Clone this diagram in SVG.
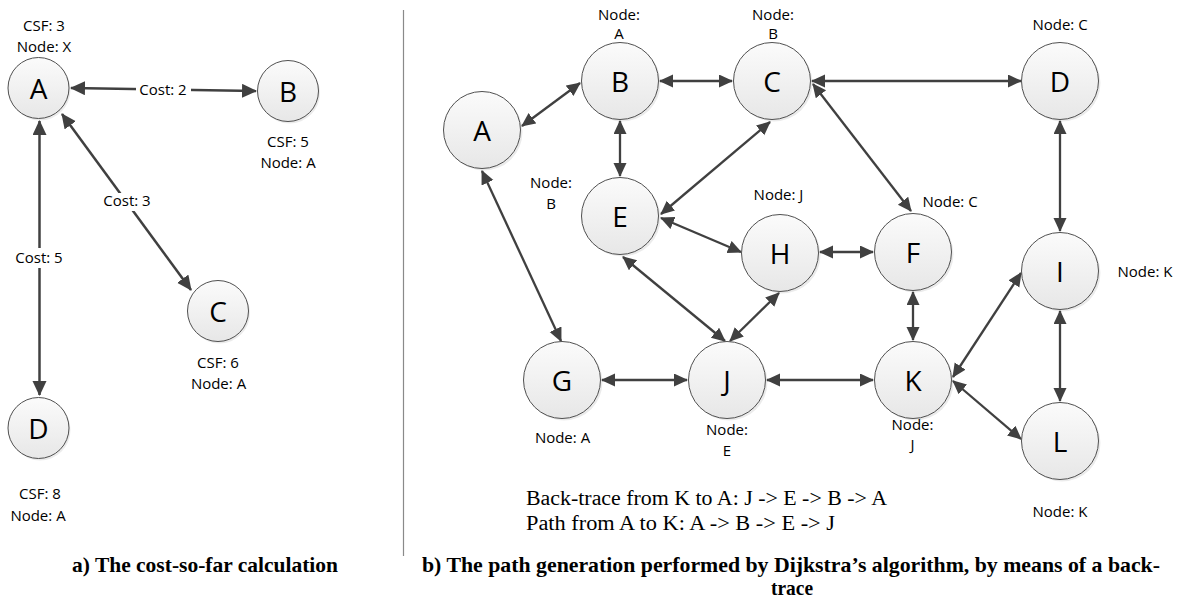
<svg xmlns="http://www.w3.org/2000/svg" width="1177" height="601" viewBox="0 0 1177 601">
<style>
.n{stroke:#505050;stroke-width:1;fill:url(#g)}
.sh{fill:#000;opacity:0.08}
.lt{font-family:"Open Sans","Liberation Sans",sans-serif;font-size:28px;fill:#000;text-anchor:middle}
.lb{font-family:"Open Sans","Liberation Sans",sans-serif;font-size:15px;fill:#000;text-anchor:middle}
.e{stroke:#404040;stroke-width:2.3;fill:none;marker-start:url(#ah);marker-end:url(#ah)}
.e1{stroke:#404040;stroke-width:2.5;fill:none;marker-end:url(#ah2)}
.sf{font-family:"Liberation Serif","Times New Roman",serif;font-size:20px;fill:#000}
.cap{font-family:"Liberation Serif","Times New Roman",serif;font-size:21px;font-weight:bold;fill:#000}
</style>
<defs>
<linearGradient id="g" x1="0" y1="0" x2="0" y2="1">
<stop offset="0" stop-color="#fbfbfb"/>
<stop offset="1" stop-color="#e7e7e7"/>
</linearGradient>
<marker id="ah" markerUnits="userSpaceOnUse" markerWidth="16" markerHeight="14" viewBox="0 0 16 14" refX="13" refY="6.5" orient="auto-start-reverse">
<path d="M0,0 L14,6.5 L0,13 z" fill="#404040"/>
</marker>
<marker id="ah2" markerUnits="userSpaceOnUse" markerWidth="17" markerHeight="16" viewBox="0 0 17 16" refX="14" refY="7" orient="auto-start-reverse">
<path d="M0,0 L15,7 L0,14 z" fill="#404040"/>
</marker>
</defs>
<rect width="1177" height="601" fill="#fff"/>

<line x1="403.5" y1="10" x2="403.5" y2="556" stroke="#8a8a8a" stroke-width="1.2"/>

<g id="connectors">
<!-- left panel -->
<line class="e1" x1="163" y1="89.5" x2="71" y2="88"/>
<line class="e1" x1="163" y1="89.5" x2="256" y2="91"/>
<line class="e1" x1="126.5" y1="202" x2="62" y2="114"/>
<line class="e1" x1="126.5" y1="202" x2="191" y2="290"/>
<line class="e1" x1="39.5" y1="258" x2="39.5" y2="121"/>
<line class="e1" x1="39.5" y1="258" x2="39.5" y2="395"/>
<rect x="136" y="80" width="55" height="19" fill="#fff"/>
<text class="lb" x="163" y="95">Cost: 2</text>
<rect x="100" y="193" width="54" height="18" fill="#fff"/>
<text class="lb" x="127" y="206">Cost: 3</text>
<rect x="13" y="248" width="53" height="20" fill="#fff"/>
<text class="lb" x="39" y="263">Cost: 5</text>
<!-- right panel -->
<line class="e" x1="522" y1="126" x2="580" y2="83"/>
<line class="e" x1="660" y1="81" x2="732" y2="81"/>
<line class="e" x1="812" y1="81" x2="1021" y2="81"/>
<line class="e" x1="620" y1="121" x2="620" y2="176"/>
<line class="e" x1="770" y1="122" x2="661" y2="214"/>
<line class="e" x1="813" y1="84" x2="911" y2="211"/>
<line class="e" x1="661" y1="218" x2="741" y2="252"/>
<line class="e" x1="623" y1="257" x2="725" y2="341"/>
<line class="e" x1="779" y1="293" x2="730" y2="341"/>
<line class="e" x1="820" y1="252" x2="873" y2="252"/>
<line class="e" x1="482" y1="171" x2="561" y2="341"/>
<line class="e" x1="602" y1="380" x2="687" y2="380"/>
<line class="e" x1="767" y1="380" x2="873" y2="380"/>
<line class="e" x1="913" y1="292" x2="913" y2="340"/>
<line class="e" x1="1060" y1="121" x2="1060" y2="231"/>
<line class="e" x1="1021" y1="273" x2="953" y2="377"/>
<line class="e" x1="953" y1="381" x2="1021" y2="439"/>
<line class="e" x1="1060" y1="311" x2="1060" y2="401"/>
</g>

<!-- left panel nodes -->
<g id="la">
<circle class="sh" cx="40" cy="90" r="30.5"/>
<circle class="n" cx="38.5" cy="88" r="30.5"/>
<text class="lt" x="38.5" y="99">A</text>
<text class="lb" x="44" y="31">CSF: 3</text>
<text class="lb" x="44" y="52">Node: X</text>
</g>
<g id="lb">
<circle class="sh" cx="289.5" cy="93" r="30.5"/>
<circle class="n" cx="288" cy="91" r="30.5"/>
<text class="lt" x="288" y="102">B</text>
<text class="lb" x="288" y="147">CSF: 5</text>
<text class="lb" x="288" y="168">Node: A</text>
</g>
<g id="lc">
<circle class="sh" cx="219.5" cy="313" r="30.5"/>
<circle class="n" cx="218" cy="311" r="30.5"/>
<text class="lt" x="218" y="322">C</text>
<text class="lb" x="218" y="368">CSF: 6</text>
<text class="lb" x="218.5" y="389">Node: A</text>
</g>
<g id="ld">
<circle class="sh" cx="40" cy="430" r="30.5"/>
<circle class="n" cx="38.5" cy="428" r="30.5"/>
<text class="lt" x="38.5" y="439">D</text>
<text class="lb" x="40" y="499">CSF: 8</text>
<text class="lb" x="38" y="521">Node: A</text>
</g>

<!-- right panel nodes -->
<g id="ra">
<circle class="sh" cx="484" cy="132" r="38.5"/>
<circle class="n" cx="482" cy="130" r="38.5"/>
<text class="lt" x="482" y="141">A</text>
</g>
<g id="rb">
<circle class="sh" cx="622" cy="83" r="38.5"/>
<circle class="n" cx="620" cy="81" r="38.5"/>
<text class="lt" x="620" y="92">B</text>
<text class="lb" x="619" y="20">Node:</text>
<text class="lb" x="619" y="39">A</text>
</g>
<g id="rc">
<circle class="sh" cx="774" cy="83" r="38.5"/>
<circle class="n" cx="772" cy="81" r="38.5"/>
<text class="lt" x="772" y="92">C</text>
<text class="lb" x="773" y="20">Node:</text>
<text class="lb" x="773" y="39">B</text>
</g>
<g id="rd">
<circle class="sh" cx="1062" cy="83" r="38.5"/>
<circle class="n" cx="1060" cy="81" r="38.5"/>
<text class="lt" x="1060" y="92">D</text>
<text class="lb" x="1060" y="30">Node: C</text>
</g>
<g id="re">
<circle class="sh" cx="622" cy="218" r="38.5"/>
<circle class="n" cx="620" cy="216" r="38.5"/>
<text class="lt" x="620" y="227">E</text>
<text class="lb" x="551" y="188">Node:</text>
<text class="lb" x="551" y="209">B</text>
</g>
<g id="rh">
<circle class="sh" cx="782" cy="255" r="38.5"/>
<circle class="n" cx="780" cy="253" r="38.5"/>
<text class="lt" x="780" y="264">H</text>
<text class="lb" x="778.5" y="200">Node: J</text>
</g>
<g id="rf">
<circle class="sh" cx="915" cy="254" r="38.5"/>
<circle class="n" cx="913" cy="252" r="38.5"/>
<text class="lt" x="913" y="263">F</text>
<text class="lb" x="950" y="207">Node: C</text>
</g>
<g id="ri">
<circle class="sh" cx="1062" cy="273" r="38.5"/>
<circle class="n" cx="1060" cy="271" r="38.5"/>
<text class="lt" x="1060" y="282">I</text>
<text class="lb" x="1145" y="277">Node: K</text>
</g>
<g id="rg">
<circle class="sh" cx="564" cy="382" r="38.5"/>
<circle class="n" cx="562" cy="380" r="38.5"/>
<text class="lt" x="562" y="391">G</text>
<text class="lb" x="562.5" y="443">Node: A</text>
</g>
<g id="rj">
<circle class="sh" cx="729" cy="382" r="38.5"/>
<circle class="n" cx="727" cy="380" r="38.5"/>
<text class="lt" x="727" y="391">J</text>
<text class="lb" x="727" y="435">Node:</text>
<text class="lb" x="727" y="456">E</text>
</g>
<g id="rk">
<circle class="sh" cx="915" cy="382" r="38.5"/>
<circle class="n" cx="913" cy="380" r="38.5"/>
<text class="lt" x="913" y="391">K</text>
<text class="lb" x="912.5" y="430">Node:</text>
<text class="lb" x="912.5" y="450">J</text>
</g>
<g id="rl">
<circle class="sh" cx="1062" cy="443" r="38.5"/>
<circle class="n" cx="1060" cy="441" r="38.5"/>
<text class="lt" x="1060" y="452">L</text>
<text class="lb" x="1060" y="517">Node: K</text>
</g>

<g id="notes">
<text class="sf" x="526" y="505" textLength="361" lengthAdjust="spacingAndGlyphs">Back-trace from K to A: J -&gt; E -&gt; B -&gt; A</text>
<text class="sf" x="526" y="530" textLength="309" lengthAdjust="spacingAndGlyphs">Path from A to K: A -&gt; B -&gt; E -&gt; J</text>
<text class="cap" x="72" y="572" textLength="266" lengthAdjust="spacingAndGlyphs">a) The cost-so-far calculation</text>
<text class="cap" x="422" y="572" textLength="738" lengthAdjust="spacingAndGlyphs">b) The path generation performed by Dijkstra’s algorithm, by means of a back-</text>
<text class="cap" x="792" y="595" text-anchor="middle" textLength="42" lengthAdjust="spacingAndGlyphs">trace</text>
</g>
</svg>
